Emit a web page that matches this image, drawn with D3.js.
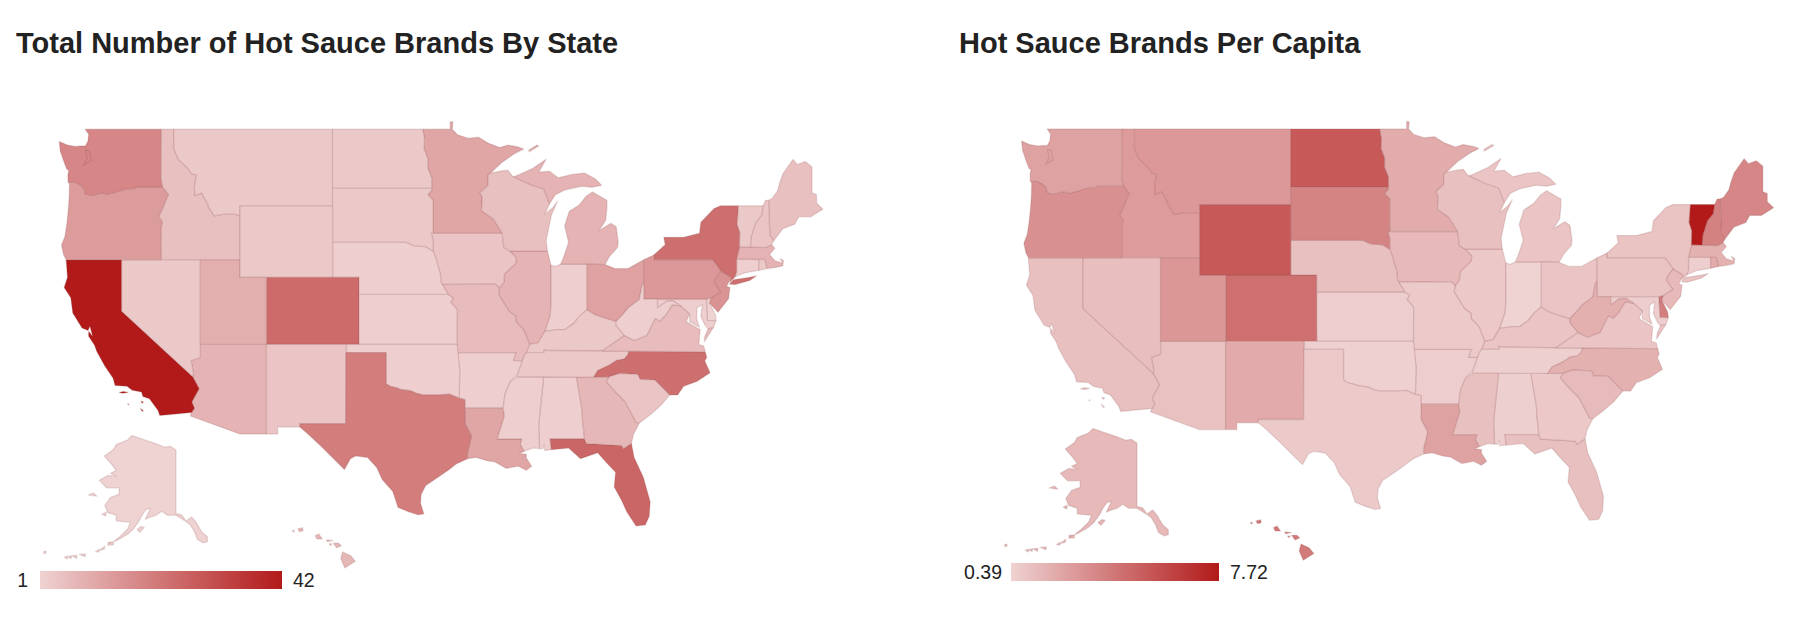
<!DOCTYPE html>
<html>
<head>
<meta charset="utf-8">
<script src="https://cdn.jsdelivr.net/npm/d3@7"></script>
<style>
  body { margin: 0; background: #fff; }
  text { font-family: "Liberation Sans", Arial, sans-serif; fill: #222; }
</style>
</head>
<body>
<div id="charts"></div>
<script>
const stateIds = ["AK","AL","AZ","AR","CA","CO","CT","DE","FL","GA","HI","ID","IL","IN","IA","KS","KY","LA","ME","MD","MA","MI","MN","MS","MO","MT","NE","NV","NH","NJ","NM","NY","NC","ND","OH","OK","OR","PA","RI","SC","SD","TN","TX","UT","VT","VA","WA","WV","WI","WY"];
const totalBrands = [1,2,8,2,42,24,2,1,25,7,7,5,8,2,4,2,3,11,5,2,8,8,11,2,6,3,2,3,4,15,4,23,23,3,12,2,13,14,3,4,3,3,20,9,3,6,18,2,5,3];
const perCapita = [1.4,0.5,1.05,0.6,1.1,4.3,0.6,3.7,1.1,0.8,3.9,2.6,0.8,0.39,1.4,0.6,0.9,2.3,3.4,0.6,1.7,0.9,1.9,1.1,0.7,2.7,1.1,1.2,3.6,1.4,2,1,1.7,5.2,0.9,0.45,3,1,2,1.3,3.5,0.5,0.7,2.8,7.72,0.9,2.3,1.8,1.1,5.2];

// state outlines as lon,lat rings, one string per polygon
const stateShapes = {
  WA: ["-124.05,46.27 -124.07,46.65 -124,46.9 -124.15,46.95 -124.35,47.3 -124.65,47.9 -124.72,48.38 -124.1,48.2 -123.5,48.13 -123.1,48.15 -122.75,48.15 -122.55,48.4 -122.5,48.75 -122.76,49 -117.03,49 -117.04,46.42 -116.92,46 -118.98,46 -119,45.93 -119.6,45.92 -120.5,45.72 -121.1,45.62 -121.5,45.7 -122.3,45.55 -122.75,45.65 -122.85,45.95 -123.2,46.15 -123.5,46.26",
       "-122.75,47.95 -122.45,47.9 -122.3,47.4 -122.9,47.15 -122.6,47.5"],
  OR: ["-124.05,46.27 -123.5,46.26 -123.2,46.15 -122.85,45.95 -122.75,45.65 -122.3,45.55 -121.5,45.7 -121.1,45.62 -120.5,45.72 -119.6,45.92 -119,45.93 -118.98,46 -116.92,46 -116.46,45.6 -116.67,45.3 -116.85,44.95 -117.22,44.4 -117.03,44.25 -116.93,44.1 -117.03,43.8 -117.03,42 -124.2,42 -124.4,42.3 -124.55,42.84 -124.3,43.3 -124.15,44 -124.05,44.7 -123.97,45.5 -123.95,46.18"],
  ID: ["-117.03,49 -116.05,49 -116.05,48 -115.7,47.45 -115,47 -114.7,46.7 -114.35,46.65 -114.5,46 -114.45,45.55 -113.95,45.7 -113.8,45.5 -113.45,45.05 -113.45,44.95 -113,44.45 -112.3,44.55 -111.5,44.55 -111.05,44.48 -111.05,42 -117.03,42 -117.03,43.8 -116.93,44.1 -117.03,44.25 -117.22,44.4 -116.85,44.95 -116.67,45.3 -116.46,45.6 -116.92,46 -117.04,46.42"],
  MT: ["-116.05,49 -104.05,49 -104.05,45 -111.05,45 -111.05,44.48 -111.5,44.55 -112.3,44.55 -113,44.45 -113.45,44.95 -113.45,45.05 -113.8,45.5 -113.95,45.7 -114.45,45.55 -114.5,46 -114.35,46.65 -114.7,46.7 -115,47 -115.7,47.45 -116.05,48"],
  WY: ["-111.05,45 -104.05,45 -104.05,41 -111.05,41"],
  ND: ["-104.05,49 -97.23,49 -97.1,48.5 -97.13,48 -96.85,47.5 -96.85,47 -96.56,46.5 -96.56,45.94 -104.05,45.94"],
  SD: ["-104.05,45.94 -96.56,45.94 -96.58,45.82 -96.85,45.6 -96.45,45.3 -96.45,43.5 -96.6,43.5 -96.45,43.1 -96.45,42.5 -97,42.75 -97.9,42.8 -98.5,43 -104.05,43"],
  NE: ["-104.05,43 -98.5,43 -97.9,42.8 -97,42.75 -96.45,42.5 -96.2,42 -96.1,41.7 -95.9,41.2 -95.85,40.7 -95.3,40 -102.05,40 -102.05,41 -104.05,41"],
  KS: ["-102.05,40 -95.3,40 -94.9,39.8 -95.1,39.55 -94.61,39.1 -94.62,37 -102.04,37"],
  OK: ["-103,37 -94.62,37 -94.43,35.4 -94.48,33.64 -95.2,33.9 -96,33.85 -96.6,33.85 -97.2,33.85 -97.7,33.95 -98.1,34.1 -98.9,34.2 -99.2,34.3 -99.7,34.4 -100,34.56 -100,36.5 -103,36.5"],
  TX: ["-103.04,36.5 -100,36.5 -100,34.56 -99.7,34.4 -99.2,34.3 -98.9,34.2 -98.1,34.1 -97.7,33.95 -97.2,33.85 -96.6,33.85 -96,33.85 -95.2,33.9 -94.48,33.64 -94.04,33.55 -94.04,32 -93.55,31.2 -93.7,30.6 -93.85,30.1 -93.85,29.7 -94.7,29.35 -95.2,29 -96,28.5 -97,27.9 -97.35,27.3 -97.4,26.7 -97.15,25.96 -97.6,25.9 -98.3,26.1 -99.1,26.4 -99.5,27.5 -100.3,28.3 -100.7,29.1 -101.4,29.77 -102.3,29.88 -102.7,29.7 -103.15,28.98 -104.9,30.5 -106,31.4 -106.53,31.78 -106.53,32 -103.06,32"],
  NM: ["-109.05,37 -103,37 -103,36.5 -103.04,36.5 -103.06,32 -106.53,32 -106.53,31.78 -108.2,31.78 -108.2,31.33 -109.05,31.33"],
  CO: ["-109.05,41 -102.05,41 -102.05,37 -109.05,37"],
  UT: ["-114.05,42 -111.05,42 -111.05,41 -109.05,41 -109.05,37 -114.05,37"],
  NV: ["-120,42 -114.05,42 -114.05,36.2 -114.75,36 -114.57,35.2 -114.63,35 -120,39"],
  AZ: ["-114.05,37 -109.05,37 -109.05,31.33 -111.07,31.33 -114.81,32.5 -114.72,32.72 -114.5,33 -114.7,33.4 -114.15,34.25 -114.63,35 -114.57,35.2 -114.75,36 -114.05,36.2"],
  CA: ["-124.2,42 -120,42 -120,39 -114.63,35 -114.15,34.25 -114.7,33.4 -114.5,33 -114.72,32.72 -117.12,32.53 -117.25,32.85 -117.9,33.6 -118.4,33.75 -118.5,34.03 -119.2,34.15 -119.6,34.4 -120.5,34.45 -120.65,34.9 -121.3,35.7 -121.9,36.6 -122.05,36.95 -122.5,37.5 -122.5,37.8 -122.2,37.5 -122.4,38.1 -122.55,37.85 -123,38 -123.7,38.9 -123.85,39.8 -124.35,40.4 -124.1,41",
       "-120.2,34 -119.9,34.07 -119.5,34.02 -119.9,33.95", "-118.55,33.45 -118.35,33.4 -118.45,33.32", "-118.6,33 -118.35,32.82 -118.45,32.8", "-119.55,33.27 -119.45,33.27 -119.5,33.22"],
  MN: ["-97.23,49 -95.15,49 -95.15,49.38 -94.95,49.37 -95,49 -94.6,48.72 -93.8,48.55 -93,48.6 -92.3,48.3 -91.4,48.07 -90.8,48.2 -90,48.1 -89.6,48 -90.3,47.75 -91.25,47.3 -92.1,46.75 -92.29,46.65 -92.29,46.1 -92.9,45.7 -92.75,45.5 -92.75,45 -92.8,44.75 -91.9,44.3 -91.22,43.5 -96.45,43.5 -96.45,45.3 -96.85,45.6 -96.58,45.82 -96.56,45.94 -96.56,46.5 -96.85,47 -96.85,47.5 -97.13,48 -97.1,48.5"],
  IA: ["-96.6,43.5 -91.22,43.5 -91.1,42.7 -90.65,42.5 -90.15,42.1 -90.2,41.8 -91.05,41.2 -91.1,40.7 -91.42,40.38 -91.75,40.6 -95.77,40.58 -95.85,40.7 -95.9,41.2 -96.1,41.7 -96.2,42 -96.45,42.5 -96.45,43.1"],
  MO: ["-95.77,40.58 -91.75,40.6 -91.42,40.38 -91.5,40 -90.7,39 -90.2,38.7 -90.2,38.4 -89.6,37.9 -89.15,37 -89.4,36.5 -89.55,36.3 -89.7,36 -90.37,36 -90.15,36.5 -94.62,36.5 -94.62,37 -94.61,39.1 -95.1,39.55 -94.9,39.8 -95.3,40"],
  AR: ["-94.62,36.5 -90.15,36.5 -90.37,36 -89.7,36 -90.1,35.1 -90.6,34.7 -91,33.95 -91.15,33 -94.04,33 -94.04,33.55 -94.48,33.64 -94.43,35.4"],
  LA: ["-94.04,33 -91.15,33 -91.05,32.5 -91.6,31 -89.73,31 -89.85,30.65 -89.55,30.2 -89.9,30.05 -89.4,30 -89.4,29.75 -89,29.2 -89.4,28.93 -90,29.2 -90.9,29.05 -91.8,29.5 -92.3,29.55 -93.2,29.78 -93.85,29.7 -93.85,30.1 -93.7,30.6 -93.55,31.2 -94.04,32"],
  MS: ["-90.1,35 -88.2,35 -88.1,34.9 -88.47,31.9 -88.4,30.37 -88.9,30.4 -89.55,30.2 -89.85,30.65 -89.73,31 -91.6,31 -91.05,32.5 -91.15,33 -91,33.95 -90.6,34.7"],
  TN: ["-90.1,35 -89.7,36 -89.55,36.3 -89.4,36.5 -88.05,36.5 -88.05,36.68 -87.85,36.63 -83.68,36.6 -81.68,36.59 -81.7,36.4 -82,36.12 -82.6,36.03 -83.1,35.75 -84,35.4 -84.32,34.99 -85.6,34.98 -88.2,35"],
  KY: ["-89.4,36.5 -89.15,37 -88.5,37.1 -88,37.8 -87,37.9 -86.5,37.9 -85.8,38.28 -85.4,38.7 -84.8,39.1 -84.2,38.8 -83.65,38.65 -82.6,38.4 -82.6,38.15 -81.97,37.54 -83.68,36.6 -87.85,36.63 -88.05,36.68 -88.05,36.5"],
  IL: ["-90.65,42.5 -87.8,42.5 -87.55,41.75 -87.53,41.7 -87.53,39.35 -87.6,38.7 -88,37.8 -88.5,37.1 -89.15,37 -89.6,37.9 -90.2,38.4 -90.2,38.7 -90.7,39 -91.5,40 -91.42,40.38 -91.1,40.7 -91.05,41.2 -90.2,41.8 -90.15,42.1"],
  WI: ["-92.29,46.65 -92.1,46.75 -91.2,46.87 -90.8,46.9 -90.4,46.55 -89.1,46.13 -88.1,45.9 -87.8,45.35 -87.65,45.1 -88,44.55 -87.4,44.9 -87.05,45.25 -87.5,44.5 -87.7,43.8 -87.9,43.1 -87.8,42.5 -90.65,42.5 -91.1,42.7 -91.22,43.5 -91.9,44.3 -92.8,44.75 -92.75,45 -92.75,45.5 -92.9,45.7 -92.29,46.1"],
  MI: ["-90.4,46.55 -89.1,46.13 -88.1,45.9 -87.8,45.35 -87.65,45.1 -87.2,45.6 -86.5,45.85 -85.2,46.05 -84.4,46 -83.7,46.1 -84.2,46.45 -85,46.75 -85.95,46.68 -87,46.5 -87.65,46.85 -88.45,46.8 -87.9,47.47 -88.9,47 -90,46.65",
       "-86.8,41.76 -84.8,41.76 -83.45,41.73 -83.1,42.2 -82.5,42.7 -82.45,43 -82.6,43.85 -83,44.05 -83.9,43.65 -83.4,44.2 -83.3,44.9 -83.3,45.3 -84.4,45.75 -84.9,45.5 -85.4,45.05 -86.15,44.7 -86.5,43.9 -86.2,43 -86.6,42.1",
       "-89.2,47.85 -88.45,48.15 -88.6,48.2 -89.2,47.95"],
  IN: ["-87.53,41.7 -87.2,41.62 -86.8,41.76 -84.8,41.76 -84.8,39.1 -85.4,38.7 -85.8,38.28 -86.5,37.9 -87,37.9 -88,37.8 -87.6,38.7 -87.53,39.35"],
  OH: ["-84.8,41.76 -83.45,41.73 -82.7,41.5 -81.7,41.5 -80.52,42 -80.52,40.64 -80.65,40.5 -80.85,39.7 -81.7,39.2 -82,38.9 -82.6,38.4 -83.65,38.65 -84.2,38.8 -84.8,39.1"],
  WV: ["-80.52,40.64 -80.52,39.72 -79.48,39.72 -79.48,39.2 -78.8,39.6 -78.3,39.62 -77.73,39.32 -78.35,39.4 -78.87,38.77 -79.3,38.42 -79.65,38.58 -80.3,37.55 -81.25,37.25 -81.97,37.54 -82.6,38.15 -82.6,38.4 -82,38.9 -81.7,39.2 -80.85,39.7 -80.65,40.5"],
  VA: ["-83.68,36.6 -81.97,37.54 -81.25,37.25 -80.3,37.55 -79.65,38.58 -79.3,38.42 -78.87,38.77 -78.35,39.4 -77.73,39.32 -77.05,38.85 -77.3,38.4 -76.25,37.9 -76.35,37 -75.98,36.9 -75.87,36.55 -81.68,36.59",
       "-75.65,37.95 -75.25,38.03 -75.95,37.15 -75.9,37.5"],
  NC: ["-84.32,34.99 -84,35.4 -83.1,35.75 -82.6,36.03 -82,36.12 -81.7,36.4 -81.68,36.59 -75.87,36.55 -75.75,36.2 -75.9,36 -75.75,35.7 -75.5,35.25 -76.5,34.7 -77.5,34.4 -77.95,33.85 -78.55,33.85 -79.68,34.8 -80.8,34.82 -80.93,35.1 -81.04,35.15 -82.35,35.2 -83.1,35"],
  SC: ["-83.1,35 -82.35,35.2 -81.04,35.15 -80.93,35.1 -80.8,34.82 -79.68,34.8 -78.55,33.85 -79.2,33.2 -80,32.6 -80.85,32.05 -81.1,32.1 -81.4,32.6 -81.9,33.4 -82.6,34 -83.35,34.7"],
  GA: ["-85.6,34.98 -84.32,34.99 -83.1,35 -83.35,34.7 -82.6,34 -81.9,33.4 -81.4,32.6 -81.1,32.1 -80.85,32.05 -81.3,31.3 -81.45,30.72 -82.05,30.36 -82.2,30.57 -84.86,30.7 -85,31 -85.05,31.55 -85.15,32.2 -85.18,32.87"],
  AL: ["-88.2,35 -85.6,34.98 -85.18,32.87 -85.15,32.2 -85.05,31.55 -85,31 -87.6,31 -87.5,30.3 -88,30.25 -88.05,30.65 -88.15,30.35 -88.4,30.37 -88.47,31.9 -88.1,34.9"],
  FL: ["-87.6,31 -85,31 -84.86,30.7 -82.2,30.57 -82.05,30.36 -81.45,30.72 -81.25,29.8 -80.55,28.45 -80.03,26.8 -80.1,25.8 -80.4,25.2 -81.1,25.13 -81.8,26.1 -82.2,26.9 -82.75,27.8 -82.65,28.8 -83.4,29.5 -84,30.1 -85.3,29.7 -86.2,30.4 -87.5,30.3"],
  PA: ["-80.52,42 -79.76,42.27 -79.76,42 -75.35,42 -75.05,41.75 -74.7,41.36 -75.1,40.95 -75.2,40.7 -74.72,40.15 -75.42,39.8 -75.79,39.72 -80.52,39.72"],
  NY: ["-79.76,42 -79.76,42.27 -78.9,42.85 -79,43.27 -77.5,43.27 -76.3,43.5 -76.2,44.1 -75.2,44.85 -74.7,45 -73.35,45 -73.45,44 -73.25,43.55 -73.27,42.75 -73.5,42.05 -73.5,41.3 -73.65,41 -73.95,40.75 -74.02,40.7 -73.9,41 -74.7,41.36 -75.05,41.75 -75.35,42",
       "-74.03,40.6 -73.75,40.85 -72.6,40.98 -72,41.08 -72.5,40.82 -73.6,40.58"],
  NJ: ["-74.7,41.36 -73.9,41 -74.25,40.48 -74,40.4 -74.1,39.75 -74.9,38.95 -75.55,39.5 -75.42,39.8 -74.72,40.15 -75.2,40.7 -75.1,40.95"],
  DE: ["-75.79,39.72 -75.42,39.8 -75.55,39.5 -75.1,38.8 -75.05,38.45 -75.7,38.46"],
  MD: ["-79.48,39.72 -75.79,39.72 -75.7,38.46 -75.05,38.45 -75.25,38.03 -75.65,37.95 -75.9,38.2 -76.2,38.7 -76.1,39.4 -76.5,39.2 -76.5,38.5 -76.3,38.05 -77.05,38.4 -77.05,38.85 -77.73,39.32 -78.3,39.62 -78.8,39.6 -79.48,39.2"],
  CT: ["-73.5,42.05 -71.8,42.02 -71.8,41.4 -72.9,41.25 -73.65,41 -73.5,41.3"],
  RI: ["-71.8,42.02 -71.38,42.02 -71.2,41.5 -71.8,41.4"],
  MA: ["-73.27,42.75 -71.3,42.7 -70.85,42.87 -70.6,42.65 -71,42.3 -70.6,41.95 -70,41.8 -70.2,42.07 -69.95,41.95 -70,41.65 -70.65,41.55 -71.2,41.5 -71.38,42.02 -71.8,42.02 -73.5,42.05"],
  VT: ["-73.35,45 -71.5,45 -71.6,44.5 -72.05,44.1 -72.4,43.3 -72.45,42.73 -73.27,42.75 -73.25,43.55 -73.45,44"],
  NH: ["-71.5,45 -71.3,45.3 -71.08,45.3 -70.98,43.4 -70.7,43.07 -70.85,42.87 -71.3,42.7 -72.45,42.73 -72.4,43.3 -72.05,44.1 -71.6,44.5"],
  ME: ["-71.08,45.3 -70.8,45.4 -70.4,45.8 -70.25,46.2 -70,46.7 -69.23,47.46 -68.9,47.2 -68.3,47.35 -67.79,47.07 -67.79,45.7 -67.45,45.6 -67.45,45.15 -66.97,44.82 -67.9,44.4 -68.8,44.4 -69.1,44 -70,43.75 -70.7,43.07 -70.98,43.4"],
  AK: ["-141,69.65 -143,70.1 -145,70 -148,70.4 -152,70.85 -156.5,71.35 -158,70.85 -162,70.3 -163,69.7 -166.2,68.9 -163.8,67.9 -162,67 -164,66.6 -162,66.2 -165,66.3 -168,65.6 -165.4,64.5 -161,64.5 -161,63.5 -164,63 -166,61.7 -165,60.5 -162,60 -162,59 -158,58.8 -157,58.8 -158,57.5 -161,55.9 -163,55 -164.9,54.6 -162,55.2 -158,56.5 -156,57.5 -154,59 -153,60 -151.5,61 -150,61.2 -151.8,59.3 -150,59.7 -148,60 -146,60.7 -144,60 -141,60 -139.7,59.6 -137.5,58.9 -136,58.3 -134.5,57 -133.5,55.5 -131.5,54.8 -130,55 -130,56 -132,57 -134,58.8 -135.5,59.7 -137.5,59 -139,60.1 -141,60.3",
       "-154.7,57.4 -153.3,58 -152.2,57.8 -153.7,56.9", "-171.8,63.4 -170,63.7 -168.8,63.2 -170.5,63.3", "-167,60.2 -165.5,60.55 -165.7,59.9", "-164.9,54.9 -163,55 -163,54.4 -164.9,54.3",
       "-168,53.2 -166,54.1 -166.2,53.5", "-169.3,53 -167.9,53.5 -168.1,52.9", "-175,52.4 -172.8,52.5 -173,51.9", "-177.5,52.1 -175.8,52.2 -176,51.5", "-179,51.9 -177.6,52.1 -177.9,51.5", "-180.3,51.8 -179,52 -179.2,51.4", "-187.5,53 -186.7,53.1 -186.8,52.6 -187.5,52.6"],
  HI: ["-155.9,20.25 -155.2,19.95 -154.8,19.5 -155.7,18.95 -156.05,19.7", "-156.7,20.95 -156.25,20.95 -156,20.75 -156.4,20.58", "-158.25,21.55 -157.95,21.7 -157.65,21.3 -158.1,21.3", "-159.75,22.1 -159.35,22.2 -159.3,21.95 -159.6,21.88", "-157.3,21.22 -156.72,21.17 -157.2,21.08", "-157.05,20.9 -156.85,20.9 -156.9,20.75", "-160.25,21.95 -160.05,22 -160.1,21.85"]
};

const lightColor = "#efd2d2";
const darkColor = "#b21a1a";

const maps = [
  { title: "Total Number of Hot Sauce Brands By State", titleX: 16, values: totalBrands,
    low: "1", high: "42", domain: [1, 42],
    main: { scale: 757.6, x: 1708.4, y: 864.9, ky: 0.987 },
    alaska: { scale: 163, x: 150.4, y: 730 },
    hawaii: { scale: 665, x: 2152, y: 792 },
    bar: [40, 571, 242, 18], lowX: 28, highX: 293 },
  { title: "Hot Sauce Brands Per Capita", titleX: 959, values: perCapita,
    low: "0.39", high: "7.72", domain: [0.39, 7.72],
    main: { scale: 746, x: 2645.5, y: 854.8, ky: 0.989 },
    alaska: { scale: 163, x: 1111.4, y: 723 },
    hawaii: { scale: 670, x: 3124, y: 786 },
    bar: [1011, 563, 208, 18], lowX: 1002, highX: 1230 },
];

const toPolygon = (str) => {
  const ring = str.split(" ").map((p) => p.split(",").map(Number));
  ring.push(ring[0]);
  return [ring];
};

const features = stateIds.map((id) => ({
  type: "Feature",
  id,
  geometry: { type: "MultiPolygon", coordinates: stateShapes[id].map(toPolygon) },
}));

// mercator squeezed a little in y, like the reference map
const makeProjection = ({ scale, x, y, ky = 1 }, rotate = 0) => {
  const merc = d3.geoMercator().rotate([rotate, 0]).scale(scale).translate([x, 0]);
  return d3.geoTransform({
    point(lon, lat) {
      const p = merc([lon, lat]);
      this.stream.point(p[0], y + ky * p[1]);
    },
  });
};

const svg = d3.select("#charts").append("svg").attr("width", 1800).attr("height", 625);

const defs = svg.append("defs");

maps.forEach((m, i) => {
  const color = d3.scaleLinear().domain(m.domain).range([lightColor, darkColor]);
  const paths = {
    main: d3.geoPath(makeProjection(m.main)),
    AK: d3.geoPath(makeProjection(m.alaska, 150)),
    HI: d3.geoPath(makeProjection(m.hawaii)),
  };

  svg.append("text")
    .attr("x", m.titleX)
    .attr("y", 53)
    .attr("font-size", 29)
    .attr("font-weight", "bold")
    .text(m.title);

  svg.append("g")
    .selectAll("path")
    .data(features)
    .enter()
    .append("path")
    .attr("d", (d) => (paths[d.id] || paths.main)(d))
    .attr("fill", (d, j) => color(m.values[j]))
    .attr("stroke", "rgba(140,70,70,0.18)")
    .attr("stroke-width", 1.3)
    .attr("stroke-linejoin", "round");

  // colour legend
  const grad = defs.append("linearGradient").attr("id", `legend${i}`);
  grad.append("stop").attr("offset", "0%").attr("stop-color", lightColor);
  grad.append("stop").attr("offset", "100%").attr("stop-color", darkColor);

  const [bx, by, bw, bh] = m.bar;
  svg.append("rect")
    .attr("x", bx)
    .attr("y", by)
    .attr("width", bw)
    .attr("height", bh)
    .attr("fill", `url(#legend${i})`);
  svg.append("text")
    .attr("x", m.lowX)
    .attr("y", by + 16)
    .attr("text-anchor", "end")
    .attr("font-size", 19.5)
    .text(m.low);
  svg.append("text")
    .attr("x", m.highX)
    .attr("y", by + 16)
    .attr("font-size", 19.5)
    .text(m.high);
});
</script>
</body>
</html>
